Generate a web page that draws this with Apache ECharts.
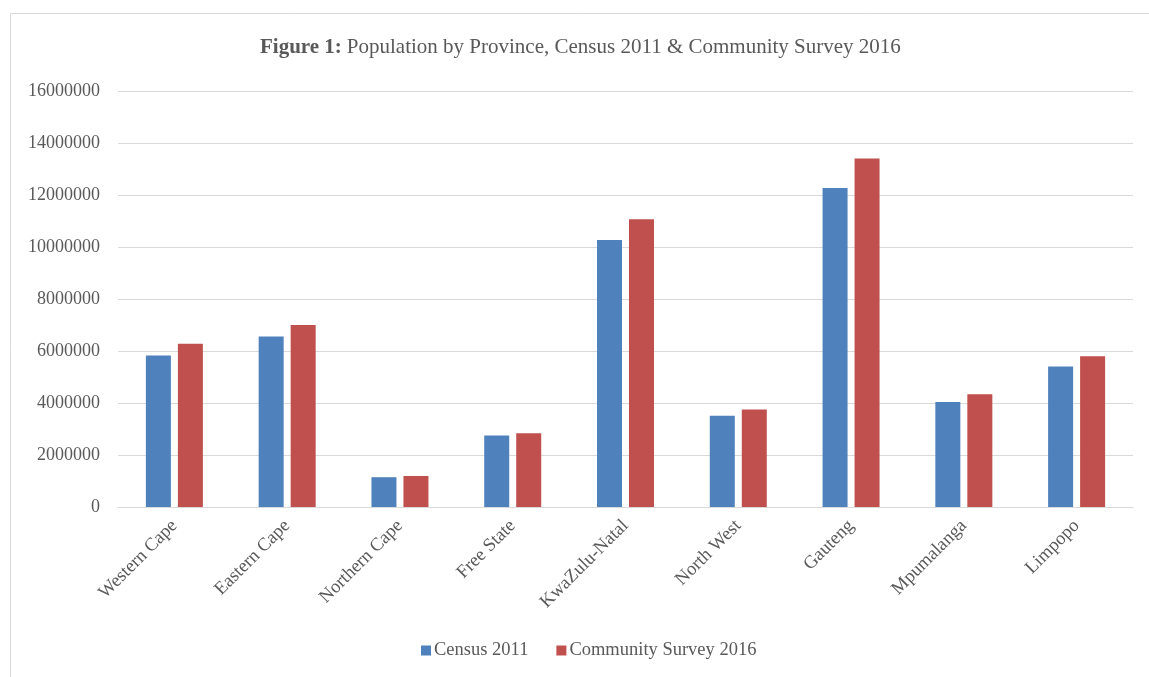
<!DOCTYPE html>
<html>
<head>
<meta charset="utf-8">
<script src="https://cdn.jsdelivr.net/npm/echarts@6/dist/echarts.min.js"></script>
<style>
  html, body { margin: 0; padding: 0; background: #fff; }
  #chart { width: 1149px; height: 677px; }
</style>
</head>
<body>
<div id="chart"></div>
<script>
// Population by province
const provinces = ['Western Cape', 'Eastern Cape', 'Northern Cape', 'Free State', 'KwaZulu-Natal', 'North West', 'Gauteng', 'Mpumalanga', 'Limpopo'];
const census2011 = [5822734, 6562053, 1145861, 2745590, 10267300, 3509953, 12272263, 4039939, 5404868];
const survey2016 = [6279730, 6996976, 1193780, 2834714, 11065240, 3748436, 13399724, 4335964, 5799090];
const seriesNames = ['Census 2011', 'Community Survey 2016'];

const font = 'Liberation Serif';
const textColor = '#595959';
const gridColor = '#d9d9d9';

const chart = echarts.init(document.getElementById('chart'));
chart.setOption({
  backgroundColor: '#fff',
  animation: false,
  graphic: [{
    type: 'rect',
    shape: { x: 10.5, y: 13.5, width: 1160, height: 700 },
    style: { fill: 'none', stroke: gridColor, lineWidth: 1 },
    silent: true
  }],
  title: {
    text: '{b|Figure 1:} {r|Population by Province, Census 2011 & Community Survey 2016}',
    left: 255,
    top: 32,
    textStyle: {
      fontWeight: 'normal',
      rich: {
        b: { fontFamily: font, fontSize: 21, fontWeight: 'bold', color: textColor },
        r: { fontFamily: font, fontSize: 21, fontWeight: 'normal', color: textColor }
      }
    }
  },
  legend: {
    bottom: 12,
    left: 416,
    itemWidth: 10,
    itemHeight: 10,
    itemGap: 28,
    icon: 'rect',
    textStyle: { fontFamily: font, fontSize: 18.5, color: textColor, padding: [0, 0, 0, -2] },
    data: seriesNames
  },
  grid: { left: 118, right: 16, top: 91, bottom: 170, containLabel: false },
  xAxis: {
    type: 'category',
    data: provinces,
    axisLine: { lineStyle: { color: gridColor, width: 1 } },
    axisTick: { show: false },
    axisLabel: { rotate: 45, fontFamily: font, fontSize: 18.5, color: textColor, margin: 16, interval: 0 }
  },
  yAxis: {
    type: 'value',
    min: 0,
    max: 16000000,
    interval: 2000000,
    axisLine: { show: false },
    axisTick: { show: false },
    splitLine: { lineStyle: { color: gridColor, width: 1 } },
    axisLabel: { fontFamily: font, fontSize: 18, color: textColor, margin: 18, formatter: v => String(v) }
  },
  series: [
    {
      name: seriesNames[0], type: 'bar', data: census2011,
      barWidth: 25, barGap: '28%',
      itemStyle: { color: '#4f81bd' }
    },
    {
      name: seriesNames[1], type: 'bar', data: survey2016,
      barWidth: 25, barGap: '28%',
      itemStyle: { color: '#c0504d' }
    }
  ]
});
</script>
</body>
</html>
